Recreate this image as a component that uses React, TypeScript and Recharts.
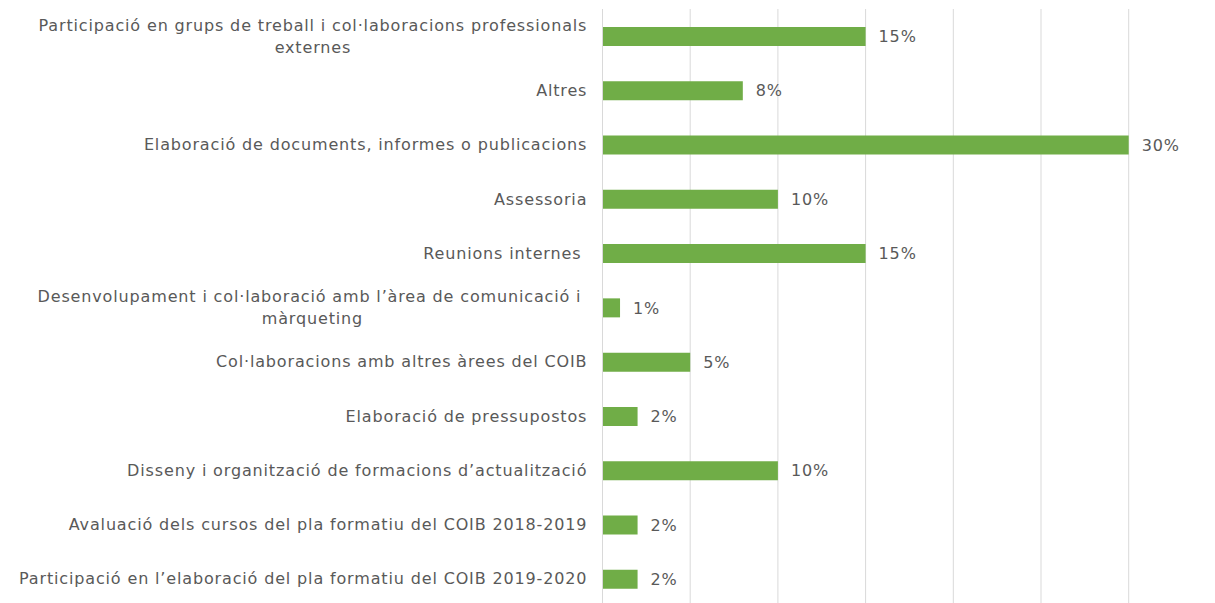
import React from 'react';
import { BarChart, Bar, XAxis, YAxis, CartesianGrid, LabelList } from 'recharts';

const categories: string[][] = [
  ['Participació en grups de treball i col·laboracions professionals', 'externes'],
  ['Altres'],
  ['Elaboració de documents, informes o publicacions'],
  ['Assessoria'],
  ['Reunions internes '],
  ['Desenvolupament i col·laboració amb l’àrea de comunicació i ', 'màrqueting'],
  ['Col·laboracions amb altres àrees del COIB'],
  ['Elaboració de pressupostos'],
  ['Disseny i organització de formacions d’actualització'],
  ['Avaluació dels cursos del pla formatiu del COIB 2018-2019'],
  ['Participació en l’elaboració del pla formatiu del COIB 2019-2020'],
];

const values: number[] = [15, 8, 30, 10, 15, 1, 5, 2, 10, 2, 2];

const xTicks: number[] = [0, 5, 10, 15, 20, 25, 30, 35];

const data = categories.map((lines, i) => ({ name: lines.join('\n'), value: values[i] }));

const FONT_SIZE = 16;
const LETTER_SPACING = 0.85;
const FONT_FAMILY = "Verdana, 'DejaVu Sans', sans-serif";
const TEXT_COLOR = '#595959';
const LINE_HEIGHT = 22;

let ctx: CanvasRenderingContext2D | null = null;
function measure(s: string): number {
  if (!ctx) {
    const c = document.createElement('canvas');
    ctx = c.getContext('2d');
  }
  if (!ctx) return s.length * (FONT_SIZE * 0.55 + LETTER_SPACING);
  ctx.font = `${FONT_SIZE}px ${FONT_FAMILY}`;
  return ctx.measureText(s).width + s.length * LETTER_SPACING;
}

const textStyle = { whiteSpace: 'pre' as const, letterSpacing: `${LETTER_SPACING}px` };

const CategoryTick = (props: any) => {
  const { x, y, payload } = props;
  const lines: string[] = String(payload.value).split('\n');
  if (lines.length === 1) {
    return (
      <text x={x} y={y} dy="0.35em" textAnchor="end" fill={TEXT_COLOR} fontSize={FONT_SIZE} fontFamily={FONT_FAMILY} style={textStyle}>
        {lines[0]}
      </text>
    );
  }
  const block = Math.max(...lines.map(measure));
  const cx = x - block / 2;
  const startY = y - ((lines.length - 1) * LINE_HEIGHT) / 2;
  return (
    <text textAnchor="middle" fill={TEXT_COLOR} fontSize={FONT_SIZE} fontFamily={FONT_FAMILY} style={textStyle}>
      {lines.map((l, i) => (
        <tspan key={i} x={cx} y={startY + i * LINE_HEIGHT} dy="0.35em">
          {l}
        </tspan>
      ))}
    </text>
  );
};

export default function App() {
  return (
    <div style={{ position: 'fixed', left: 0, top: 0, width: 1215, height: 603, overflow: 'hidden', background: '#fff' }}>
      <BarChart
        width={1220}
        height={610}
        data={data}
        layout="vertical"
        margin={{ top: 9, right: 3.6, bottom: 4, left: 0 }}
        barCategoryGap={0}
      >
        <CartesianGrid horizontal={false} vertical stroke="#d9d9d9" strokeWidth={1} />
        <XAxis type="number" domain={[0, 35]} ticks={xTicks} hide />
        <YAxis
          type="category"
          dataKey="name"
          width={602.5}
          tickLine={false}
          tickSize={0}
          tickMargin={15.2}
          axisLine={{ stroke: '#d9d9d9' }}
          interval={0}
          tick={<CategoryTick />}
        />
        <Bar dataKey="value" fill="#70AD47" barSize={19} isAnimationActive={false}>
          <LabelList
            dataKey="value"
            position="right"
            offset={13}
            formatter={(v: any) => `${v}%`}
            fill={TEXT_COLOR}
            fontSize={FONT_SIZE}
            fontFamily={FONT_FAMILY}
            style={textStyle}
          />
        </Bar>
      </BarChart>
    </div>
  );
}
